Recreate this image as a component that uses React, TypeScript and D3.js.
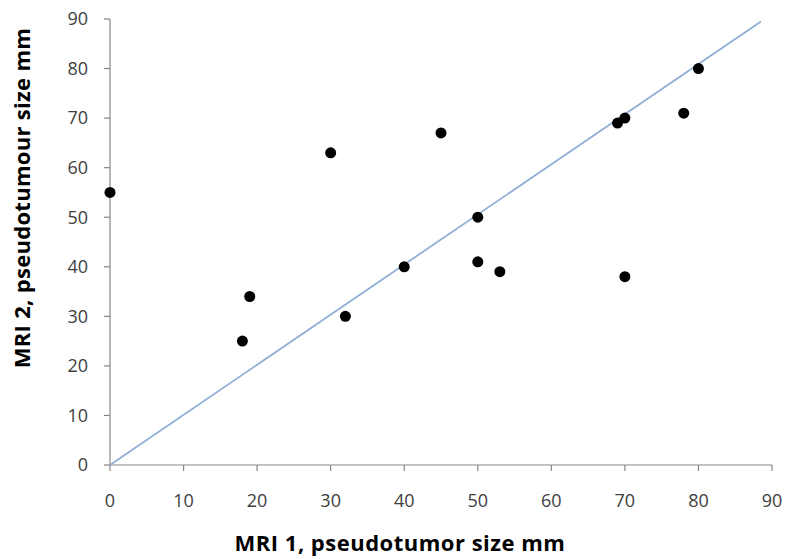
import React from "react";
import * as d3 from "d3";

// MRI 1 vs MRI 2 pseudotumor size (mm)
const mri1 = [0, 18, 19, 30, 32, 40, 45, 50, 50, 53, 69, 70, 70, 78, 80];
const mri2 = [55, 25, 34, 63, 30, 40, 67, 50, 41, 39, 69, 70, 38, 71, 80];
const xTicks = [0, 10, 20, 30, 40, 50, 60, 70, 80, 90];
const yTicks = [0, 10, 20, 30, 40, 50, 60, 70, 80, 90];
// reference line ends (as drawn)
const lineX = [0, 88.5];
const lineY = [0, 89.5];

const width = 786;
const height = 559;
const margin = { top: 19, right: 14, bottom: 94, left: 110 };

const font = "'Open Sans', sans-serif";

export default function App() {
  const x = d3
    .scaleLinear()
    .domain([0, 90])
    .range([margin.left, width - margin.right]);
  const y = d3
    .scaleLinear()
    .domain([0, 90])
    .range([height - margin.bottom, margin.top]);

  const line = d3
    .line<number>()
    .x((d) => x(lineX[d]))
    .y((d) => y(lineY[d]));

  const axisColor = "#868686";
  const x0 = x(0);
  const y0 = y(0);

  return (
    <svg
      width={width}
      height={height}
      style={{ position: "absolute", left: 0, top: 0, background: "#fff" }}
    >
      {/* axes */}
      <line x1={x0} x2={x0} y1={y(90)} y2={y0} stroke={axisColor} strokeWidth={1.2} />
      <line x1={x0} x2={x(90)} y1={y0} y2={y0} stroke={axisColor} strokeWidth={1.2} />
      {yTicks.map((t) => (
        <g key={"y" + t}>
          <line x1={x0 - 6} x2={x0} y1={y(t)} y2={y(t)} stroke={axisColor} strokeWidth={1.2} />
          <text
            x={x0 - 22}
            y={y(t)}
            dy="0.35em"
            textAnchor="end"
            fontFamily={font}
            fontSize={18}
            fill="#404040"
          >
            {t}
          </text>
        </g>
      ))}
      {xTicks.map((t) => (
        <g key={"x" + t}>
          <line x1={x(t)} x2={x(t)} y1={y0} y2={y0 + 6} stroke={axisColor} strokeWidth={1.2} />
          <text
            x={x(t)}
            y={y0 + 42}
            textAnchor="middle"
            fontFamily={font}
            fontSize={18}
            fill="#404040"
          >
            {t}
          </text>
        </g>
      ))}

      {/* reference line */}
      <path d={line([0, 1]) || ""} fill="none" stroke="#8fb0d6" strokeWidth={1.8} />

      {/* points */}
      {mri1.map((v, i) => (
        <circle key={i} cx={x(v)} cy={y(mri2[i])} r={5.5} fill="#000" />
      ))}

      {/* axis titles */}
      <text
        x={400}
        y={551}
        textAnchor="middle"
        fontFamily={font}
        fontWeight="bold"
        fontSize={22}
        letterSpacing={0.5}
        fill="#000"
      >
        MRI 1, pseudotumor size mm
      </text>
      <text
        transform={`translate(30,${198}) rotate(-90)`}
        textAnchor="middle"
        fontFamily={font}
        fontWeight="bold"
        fontSize={22}
        letterSpacing={0.3}
        fill="#000"
      >
        MRI 2, pseudotumour size mm
      </text>
    </svg>
  );
}
